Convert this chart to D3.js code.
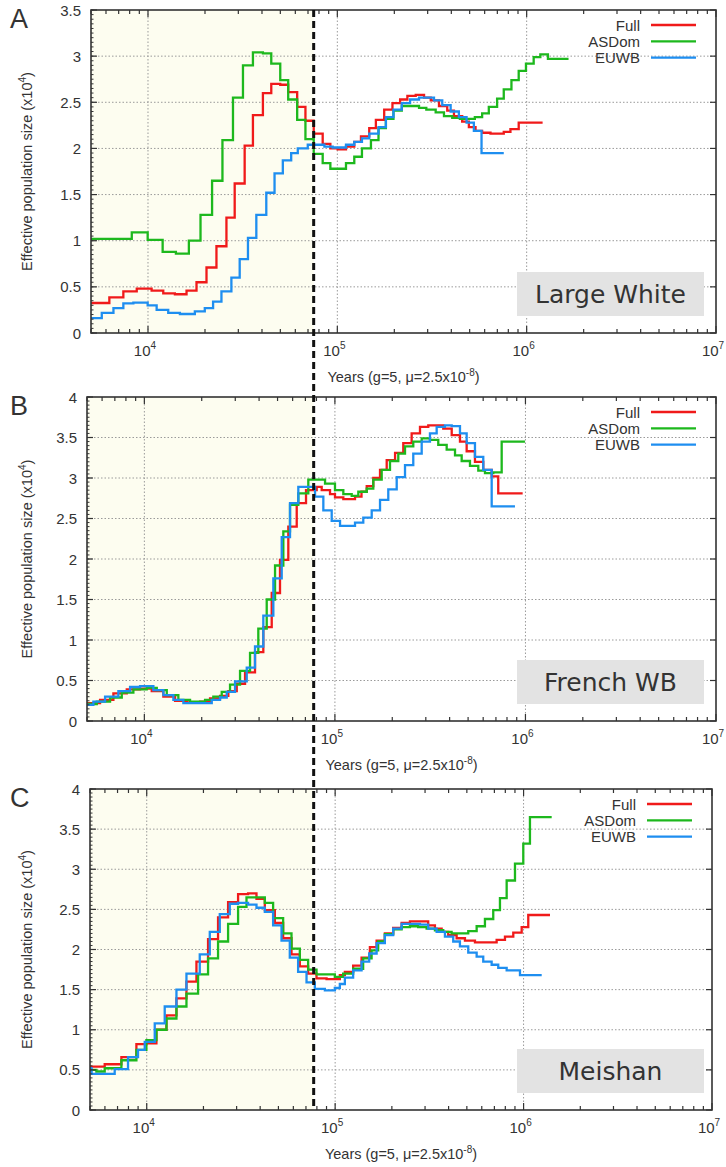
<!DOCTYPE html>
<html lang="en">
<head>
<meta charset="utf-8">
<title>Effective population size, three breeds</title>
<script src="https://cdn.jsdelivr.net/npm/d3@7"></script>
<style>
  body { margin: 0; background: #fff; }
  svg text { font-family: "Liberation Sans", Arial, sans-serif; fill: #333; }
</style>
</head>
<body>
<div id="chart"></div>
<script>
// step curves: [years, Ne (x10^4)], last pair marks where the curve stops
const aFull = [[5000,0.325],[6250,0.386],[7410,0.45],[8720,0.48],[10450,0.46],[12040,0.43],[13870,0.42],[15980,0.46],[18040,0.55],[20370,0.71],[22990,0.94],[25960,1.25],[28700,1.62],[32400,2.03],[35830,2.36],[40450,2.60],[44780,2.70],[49950,2.69],[55020,2.61],[61370,2.45],[67850,2.30],[75050,2.16],[83690,2.05],[91870,2.00],[100400,1.99],[111100,2.02],[122900,2.07],[133300,2.13],[147400,2.22],[159800,2.31],[176800,2.42],[195500,2.49],[214600,2.53],[234400,2.57],[259500,2.58],[287100,2.55],[311400,2.52],[344300,2.46],[380600,2.41],[413000,2.35],[456500,2.29],[495200,2.23],[537000,2.19],[581800,2.17],[644100,2.16],[756900,2.18],[820900,2.21],[907800,2.28],[1214000,2.28]];
const aASDom = [[5000,1.02],[8210,1.09],[9960,1.01],[11950,0.88],[14040,0.86],[16440,1.00],[18940,1.28],[21800,1.65],[24730,2.09],[28110,2.55],[31740,2.90],[35830,3.04],[40450,3.03],[44780,2.92],[49950,2.74],[55020,2.53],[61370,2.31],[67850,2.10],[75050,1.94],[83690,1.84],[91870,1.78],[111100,1.84],[122900,1.91],[134900,2.00],[150500,2.09],[165000,2.22],[180500,2.32],[197900,2.41],[219000,2.46],[242200,2.46],[270100,2.44],[295100,2.42],[330700,2.39],[365800,2.35],[404500,2.33],[443900,2.32],[485000,2.32],[532500,2.34],[581800,2.38],[631000,2.45],[698000,2.54],[756900,2.64],[831000,2.74],[907800,2.84],[991500,2.92],[1089000,2.99],[1181000,3.02],[1295000,2.97],[1664000,2.97]];
const aEUWB = [[5000,0.162],[5700,0.217],[6570,0.27],[7410,0.32],[8370,0.33],[9960,0.30],[11110,0.25],[12790,0.217],[14740,0.206],[17680,0.235],[19950,0.27],[22070,0.34],[24430,0.45],[27570,0.60],[30500,0.80],[33730,1.03],[37340,1.28],[42150,1.52],[46600,1.73],[51540,1.87],[57050,1.95],[61820,2.00],[69800,2.04],[85440,2.02],[94480,2.01],[111100,2.04],[122900,2.07],[134900,2.11],[147400,2.16],[165000,2.23],[180500,2.34],[197900,2.42],[219000,2.49],[242200,2.53],[270100,2.55],[324000,2.52],[358300,2.47],[396700,2.40],[438500,2.34],[481500,2.28],[526200,2.19],[577600,1.95],[756900,1.95]];

const bFull = [[5000,0.22],[5855,0.26],[6878,0.34],[8085,0.39],[9493,0.40],[10930,0.37],[12580,0.30],[14490,0.25],[16690,0.23],[19600,0.24],[22120,0.28],[24960,0.31],[27590,0.37],[30540,0.46],[33760,0.60],[38080,0.85],[42100,1.16],[46600,1.58],[51510,1.99],[56950,2.40],[63040,2.69],[70530,2.85],[80250,2.89],[85240,2.85],[94260,2.80],[100100,2.76],[110700,2.74],[127500,2.77],[137900,2.83],[146900,2.90],[159000,3.00],[172500,3.10],[187000,3.22],[206900,3.31],[228500,3.43],[252800,3.55],[279600,3.63],[309000,3.65],[370400,3.61],[410200,3.53],[453300,3.45],[491400,3.33],[543300,3.20],[600600,3.10],[664900,3.02],[719800,2.81],[966800,2.81]];
const bASDom = [[5000,0.21],[5627,0.24],[6607,0.29],[7610,0.35],[8756,0.39],[10290,0.41],[11620,0.38],[13110,0.32],[15080,0.26],[17370,0.24],[20820,0.26],[23010,0.30],[25470,0.36],[28160,0.45],[31780,0.62],[35860,0.84],[39630,1.14],[43870,1.50],[48510,1.92],[53620,2.34],[58130,2.67],[64270,2.81],[72510,2.98],[88760,2.93],[100100,2.85],[110700,2.80],[122500,2.78],[132700,2.83],[146900,2.87],[159000,2.98],[176000,3.10],[194600,3.21],[215100,3.30],[233300,3.39],[257800,3.45],[285400,3.49],[315400,3.47],[348700,3.41],[386000,3.35],[426900,3.28],[462700,3.21],[511500,3.15],[565500,3.09],[613100,3.06],[677900,3.07],[750300,3.45],[994000,3.45]];
const bEUWB = [[5000,0.20],[5400,0.24],[6220,0.30],[7305,0.37],[8414,0.42],[9493,0.43],[11150,0.38],[12580,0.32],[14200,0.26],[16020,0.22],[19600,0.22],[22580,0.26],[24960,0.29],[27060,0.36],[29920,0.49],[34460,0.66],[38080,0.92],[42100,1.30],[47520,1.76],[52580,2.27],[58130,2.69],[64270,2.89],[78650,2.77],[86950,2.60],[96200,2.47],[106400,2.41],[127500,2.45],[140900,2.51],[156000,2.60],[172500,2.73],[190600,2.86],[211000,3.01],[233300,3.16],[257800,3.30],[285400,3.45],[315400,3.55],[342000,3.63],[378000,3.65],[410200,3.64],[453300,3.55],[491400,3.43],[543300,3.26],[600600,3.10],[664900,2.65],[881000,2.65]];

const cFull = [[5000,0.54],[5984,0.57],[7338,0.66],[8815,0.82],[9960,0.83],[11260,1.00],[12730,1.18],[14380,1.39],[16250,1.60],[18360,1.85],[21160,2.13],[23910,2.40],[27030,2.59],[30540,2.69],[34510,2.70],[38240,2.63],[42340,2.49],[47850,2.33],[52960,2.14],[58660,1.94],[64940,1.79],[71880,1.70],[79630,1.64],[90040,1.63],[105900,1.68],[112600,1.72],[124600,1.80],[138100,1.90],[152900,2.03],[166000,2.11],[183600,2.20],[203200,2.27],[225300,2.33],[249400,2.35],[311800,2.30],[338500,2.26],[367400,2.22],[398200,2.18],[441300,2.14],[488500,2.11],[552100,2.09],[719500,2.12],[796600,2.16],[881800,2.21],[977000,2.28],[1059000,2.43],[1381000,2.43]];
const cASDom = [[5000,0.50],[5406,0.48],[5984,0.52],[7338,0.62],[8815,0.75],[9960,0.87],[11260,1.00],[12730,1.14],[14380,1.29],[16250,1.45],[18730,1.69],[21160,1.89],[23910,2.10],[27030,2.32],[30540,2.53],[33850,2.65],[42340,2.58],[46860,2.39],[52960,2.20],[58660,2.01],[64940,1.87],[71880,1.75],[79630,1.69],[99600,1.66],[110300,1.70],[124600,1.76],[140800,1.89],[156100,1.99],[169200,2.10],[183600,2.19],[203200,2.25],[225300,2.28],[249400,2.29],[275900,2.28],[305800,2.26],[338500,2.24],[374700,2.22],[415000,2.20],[459400,2.20],[508600,2.23],[563600,2.29],[623700,2.38],[690300,2.49],[749300,2.64],[813300,2.86],[900300,3.07],[996400,3.32],[1081000,3.65],[1410000,3.65]];
const cEUWB = [[5000,0.52],[5100,0.45],[6761,0.51],[7956,0.66],[8990,0.75],[9760,0.85],[11030,1.08],[12460,1.29],[14380,1.50],[16250,1.70],[19120,1.94],[21610,2.22],[24420,2.44],[27590,2.57],[30540,2.58],[34510,2.56],[38240,2.52],[42340,2.47],[46860,2.30],[51930,2.11],[57450,1.90],[63600,1.72],[70490,1.59],[78020,1.51],[88190,1.49],[99600,1.52],[105900,1.57],[112600,1.65],[124600,1.74],[138100,1.85],[151600,1.95],[166000,2.08],[183600,2.18],[203200,2.26],[225300,2.32],[249400,2.32],[281800,2.31],[311800,2.26],[345600,2.22],[382500,2.16],[423300,2.10],[459400,2.04],[508600,1.96],[563600,1.91],[610900,1.85],[676900,1.81],[733800,1.77],[813300,1.74],[957000,1.68],[1248000,1.68]];

const seriesNames = ['Full', 'ASDom', 'EUWB'];
const seriesColors = ['#f01a1a', '#1db81d', '#1e8ef0'];
const panelLetters = ['A', 'B', 'C'];
const panelNames = ['Large White', 'French WB', 'Meishan'];
const yMaxes = [3.5, 4, 4];
const xDomain = [5000, 1e7];
const xLabelPowers = [4, 5, 6, 7];
const splitYears = 75000;   // dashed line / shaded period

const panelData = [[aFull, aASDom, aEUWB], [bFull, bASDom, bEUWB], [cFull, cASDom, cEUWB]];

// plot boxes of the three panels
const layout = [
  {left: 91, right: 716, top: 10, bottom: 333},
  {left: 87, right: 716, top: 397, bottom: 721},
  {left: 90, right: 712, top: 789, bottom: 1110}
];

const svg = d3.select('#chart').append('svg')
  .attr('width', 726)
  .attr('height', 1167);

// the dashed line sits at one x across the whole figure
const dashX = d3.scaleLog().domain(xDomain).range([layout[0].left, layout[0].right])(splitYears);

layout.forEach(function (L, i) {
  const x = d3.scaleLog().domain(xDomain).range([L.left, L.right]);
  const y = d3.scaleLinear().domain([0, yMaxes[i]]).range([L.bottom, L.top]);
  const g = svg.append('g');

  // shaded recent period
  g.append('rect')
    .attr('x', L.left).attr('y', L.top)
    .attr('width', dashX - L.left).attr('height', L.bottom - L.top)
    .attr('fill', '#fdfdf0');

  // dotted grid
  const yMajor = y.ticks(yMaxes[i] * 2);
  g.selectAll('.hgrid').data(yMajor.slice(1, -1)).enter().append('line')
    .attr('x1', L.left).attr('x2', L.right)
    .attr('y1', d => y(d)).attr('y2', d => y(d))
    .attr('stroke', '#9a9a9a').attr('stroke-width', 1).attr('stroke-dasharray', '1.5,2');
  g.selectAll('.vgrid').data(xLabelPowers.slice(0, 3)).enter().append('line')
    .attr('x1', d => x(Math.pow(10, d))).attr('x2', d => x(Math.pow(10, d)))
    .attr('y1', L.top).attr('y2', L.bottom)
    .attr('stroke', '#9a9a9a').attr('stroke-width', 1).attr('stroke-dasharray', '1.5,2');

  // curves
  const clipId = 'clip' + i;
  svg.append('clipPath').attr('id', clipId).append('rect')
    .attr('x', L.left).attr('y', L.top)
    .attr('width', L.right - L.left).attr('height', L.bottom - L.top);
  const line = d3.line()
    .x(d => x(d[0]))
    .y(d => y(d[1]))
    .curve(d3.curveStepAfter);
  panelData[i].forEach(function (s, k) {
    g.append('path')
      .attr('d', line(s))
      .attr('clip-path', 'url(#' + clipId + ')')
      .attr('fill', 'none')
      .attr('stroke', seriesColors[k])
      .attr('stroke-width', 2.3);
  });

  // ticks, gnuplot style (inside, mirrored)
  const xt = x.ticks().filter(d => d >= xDomain[0] && d <= xDomain[1]);
  xt.forEach(function (d) {
    const major = Math.abs(Math.log10(d) - Math.round(Math.log10(d))) < 1e-9;
    const len = major ? 7 : 4;
    [[L.bottom, -len], [L.top, len]].forEach(function (p) {
      g.append('line')
        .attr('x1', x(d)).attr('x2', x(d))
        .attr('y1', p[0]).attr('y2', p[0] + p[1])
        .attr('stroke', '#333').attr('stroke-width', 1.2);
    });
  });
  y.ticks(yMaxes[i] * 20).forEach(function (d) {
    g.append('line')
      .attr('x1', L.left).attr('x2', L.left + 2.5)
      .attr('y1', y(d)).attr('y2', y(d))
      .attr('stroke', '#333').attr('stroke-width', 1);
  });
  yMajor.forEach(function (d) {
    g.append('line').attr('x1', L.left).attr('x2', L.left + 6)
      .attr('y1', y(d)).attr('y2', y(d)).attr('stroke', '#333').attr('stroke-width', 1.2);
    g.append('line').attr('x1', L.right).attr('x2', L.right - 6)
      .attr('y1', y(d)).attr('y2', y(d)).attr('stroke', '#333').attr('stroke-width', 1.2);
  });

  // frame
  g.append('rect')
    .attr('x', L.left).attr('y', L.top)
    .attr('width', L.right - L.left).attr('height', L.bottom - L.top)
    .attr('fill', 'none').attr('stroke', '#333').attr('stroke-width', 1.6);

  // y tick labels
  g.selectAll('.ylab').data(yMajor).enter().append('text')
    .attr('x', L.left - 10).attr('y', d => y(d))
    .attr('text-anchor', 'end').attr('dominant-baseline', 'central')
    .attr('font-size', 15)
    .text(d => d3.format('')(d));

  // x tick labels 10^n
  xLabelPowers.forEach(function (p) {
    const t = g.append('text')
      .attr('x', x(Math.pow(10, p)) - 3).attr('y', L.bottom + 23)
      .attr('text-anchor', 'middle').attr('font-size', 15);
    t.append('tspan').text('10');
    t.append('tspan').attr('dy', -7).attr('font-size', 10).text(p);
  });

  // axis titles
  const xt2 = g.append('text')
    .attr('x', (L.left + L.right) / 2).attr('y', L.bottom + 49)
    .attr('text-anchor', 'middle').attr('font-size', 14.5);
  xt2.append('tspan').text('Years (g=5, \u03bc=2.5x10');
  xt2.append('tspan').attr('dy', -6).attr('font-size', 10).text('-8');
  xt2.append('tspan').attr('dy', 6).text(')');

  const yt = g.append('text')
    .attr('transform', 'translate(32,' + (L.top + L.bottom) / 2 + ') rotate(-90)')
    .attr('text-anchor', 'middle').attr('font-size', 14.5);
  yt.append('tspan').text('Effective population size (x10');
  yt.append('tspan').attr('dy', -6).attr('font-size', 10).text('4');
  yt.append('tspan').attr('dy', 6).text(')');

  // panel letter
  g.append('text')
    .attr('x', 10).attr('y', L.top + 18)
    .attr('font-size', 27).attr('fill', '#444')
    .text(panelLetters[i]);

  // legend
  seriesNames.forEach(function (name, k) {
    const ly = L.top + 15 + k * 16.3;
    g.append('text')
      .attr('x', L.right - 76).attr('y', ly)
      .attr('text-anchor', 'end').attr('dominant-baseline', 'central')
      .attr('font-size', 15)
      .text(name);
    g.append('line')
      .attr('x1', L.right - 65).attr('x2', L.right - 20)
      .attr('y1', ly).attr('y2', ly)
      .attr('stroke', seriesColors[k]).attr('stroke-width', 2.3);
  });

  // breed label box
  g.append('rect')
    .attr('x', 517).attr('y', L.bottom - 61)
    .attr('width', 187).attr('height', 44)
    .attr('fill', '#e3e3e3');
  g.append('text')
    .attr('x', 517 + 187 / 2).attr('y', L.bottom - 39)
    .attr('text-anchor', 'middle').attr('dominant-baseline', 'central')
    .style('font-family', '"DejaVu Sans", sans-serif')
    .attr('font-size', 25).attr('fill', '#333')
    .text(panelNames[i]);
});

// vertical dashed line through all panels
svg.append('line')
  .attr('x1', dashX).attr('x2', dashX)
  .attr('y1', layout[0].top).attr('y2', layout[2].bottom)
  .attr('stroke', '#111').attr('stroke-width', 3)
  .attr('stroke-dasharray', '7,4');
</script>
</body>
</html>
